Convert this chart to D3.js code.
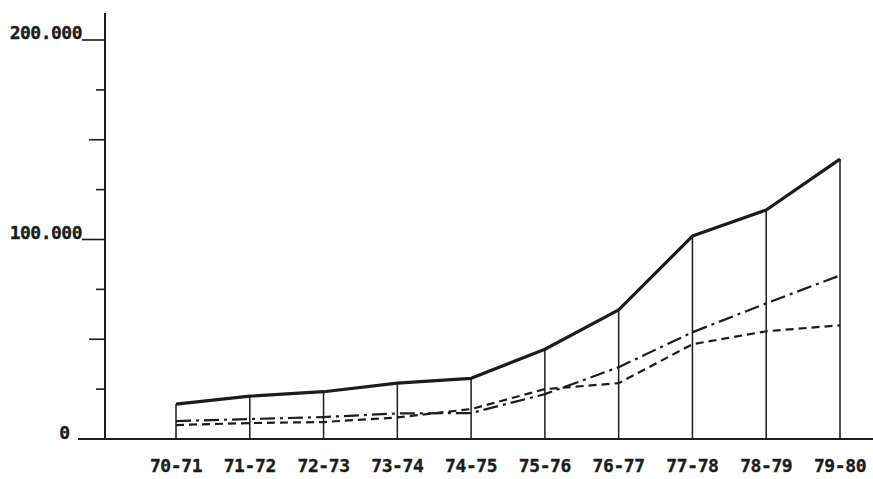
<!DOCTYPE html>
<html>
<head>
<meta charset="utf-8">
<script src="https://cdn.jsdelivr.net/npm/d3@7"></script>
<style>
  html, body { margin: 0; padding: 0; background: #fff; }
  svg { display: block; }
  text { font-family: "DejaVu Sans Mono", monospace; font-weight: bold; fill: #1c1c1c; stroke: #1c1c1c; stroke-width: 0.35; }
</style>
</head>
<body>
<svg id="chart" width="873" height="479"></svg>
<script>
const categories = ["70-71","71-72","72-73","73-74","74-75","75-76","76-77","77-78","78-79","79-80"];
const totalSeries = [17500, 21500, 23700, 28000, 30400, 45000, 64700, 101700, 114800, 140300];
const dashDotSeries = [9000, 10000, 11000, 12800, 13000, 22500, 36000, 53500, 68000, 82000];
const dashedSeries = [7000, 8000, 8500, 10800, 15000, 25000, 28000, 47500, 54000, 57000];
const yTickValues = [0, 25000, 50000, 75000, 100000, 125000, 150000, 175000, 200000];
const yLabelValues = [0, 100000, 200000];
const yLabelTexts = ["0", "100.000", "200.000"];

const ink = "#1c1c1c";
const svg = d3.select("#chart");

const x = d3.scalePoint().domain(categories).range([176, 840]);
const y = d3.scaleLinear().domain([0, 200000]).range([439, 40]);
const axisX = 105;

// baseline
svg.append("line").attr("x1", 78).attr("x2", 873)
  .attr("y1", y(0)).attr("y2", y(0))
  .attr("stroke", ink).attr("stroke-width", 2);

// y axis line
svg.append("line").attr("x1", axisX).attr("x2", axisX)
  .attr("y1", y(213500)).attr("y2", y(0))
  .attr("stroke", ink).attr("stroke-width", 2);

// ticks
svg.selectAll("line.ytick").data(yTickValues.filter(v => v > 0)).enter()
  .append("line").attr("class", "ytick")
  .attr("x1", d => d % 100000 === 0 ? 82 : (d % 50000 === 0 ? 89 : 96))
  .attr("x2", axisX)
  .attr("y1", d => y(d)).attr("y2", d => y(d))
  .attr("stroke", ink).attr("stroke-width", 1.6);

// y labels
svg.selectAll("text.ylab").data(yLabelValues).enter()
  .append("text").attr("class", "ylab")
  .attr("x", d => d === 0 ? 70 : 82)
  .attr("y", d => y(d) - (d === 0 ? 0 : 1))
  .attr("text-anchor", "end")
  .attr("font-size", 18)
  .attr("letter-spacing", d => d === 0 ? 0 : -0.5)
  .text((d, i) => yLabelTexts[i]);

// x labels
svg.selectAll("text.xlab").data(categories).enter()
  .append("text").attr("class", "xlab")
  .attr("x", d => x(d))
  .attr("y", 472)
  .attr("text-anchor", "middle")
  .attr("font-size", 18)
  .attr("letter-spacing", -0.4)
  .text(d => d);

// vertical drop lines
svg.selectAll("line.drop").data(categories).enter()
  .append("line").attr("class", "drop")
  .attr("x1", d => x(d)).attr("x2", d => x(d))
  .attr("y1", (d, i) => y(totalSeries[i])).attr("y2", y(0))
  .attr("stroke", ink).attr("stroke-width", 1.5);

const line = d3.line().x((d, i) => x(categories[i])).y(d => y(d));

svg.append("path").datum(dashedSeries)
  .attr("d", line).attr("fill", "none")
  .attr("stroke", ink).attr("stroke-width", 2.2)
  .attr("stroke-dasharray", "8,5");

svg.append("path").datum(dashDotSeries)
  .attr("d", line).attr("fill", "none")
  .attr("stroke", ink).attr("stroke-width", 2.2)
  .attr("stroke-dasharray", "15,5,3,5");

svg.append("path").datum(totalSeries)
  .attr("d", line).attr("fill", "none")
  .attr("stroke", ink).attr("stroke-width", 3.2)
  .attr("stroke-linejoin", "round");
</script>
</body>
</html>
